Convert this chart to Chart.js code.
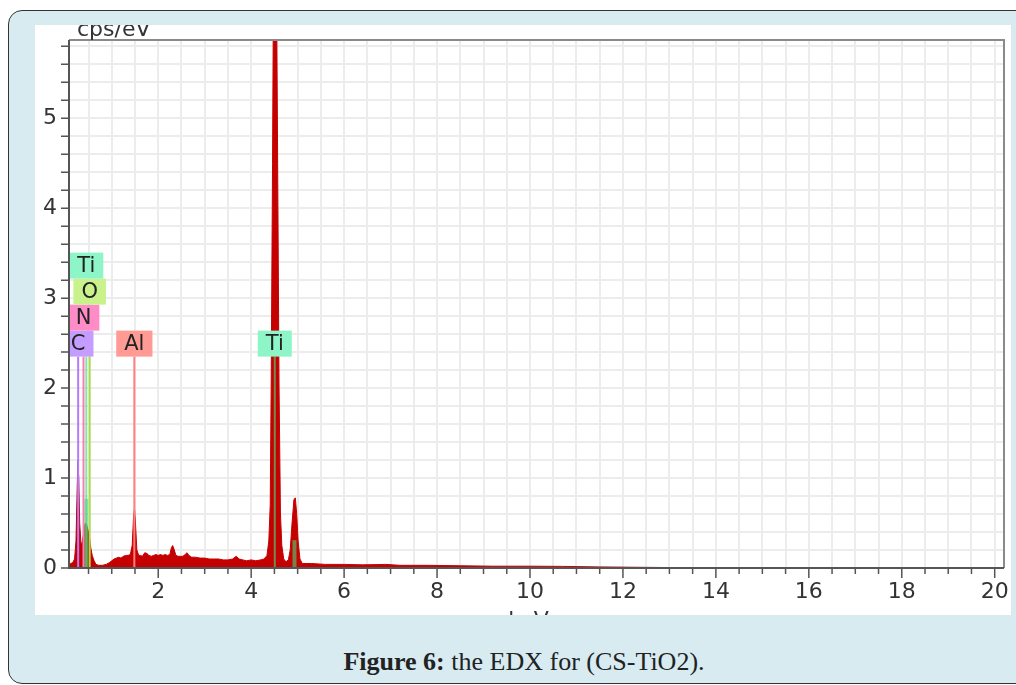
<!DOCTYPE html>
<html>
<head>
<meta charset="utf-8">
<title>EDX CS-TiO2</title>
<script src="https://cdn.jsdelivr.net/npm/chart.js@4.4.1/dist/chart.umd.min.js"></script>
<style>
  body { margin: 0; background: #fff; width: 1016px; height: 685px; overflow: hidden; position: relative; }
  #card { position: absolute; left: 8px; top: 10px; width: 1040px; height: 672px; background: #d7ebf1; border: 1.5px solid #333; border-radius: 14px; }
  #plot { position: absolute; left: 35px; top: 25px; width: 976px; height: 590px; background: #fff; overflow: hidden; }
  #caption { position: absolute; left: 0; top: 647px; width: 1048px; text-align: center; font-family: 'Liberation Serif', serif; font-size: 26px; color: #222; }
</style>
</head>
<body>
<div id="card"></div>
<div id="plot"><canvas id="chartCanvas" width="976" height="590"></canvas></div>
<div id="caption"><b>Figure 6:</b> the EDX for (CS-TiO2).</div>
<script>
// spectrum (keV, cps/eV)
const energy = [0.08, 0.12, 0.16, 0.20, 0.23, 0.25, 0.27, 0.29, 0.31, 0.34, 0.37, 0.40, 0.43, 0.46, 0.49, 0.52, 0.55, 0.58, 0.62, 0.66,
  0.72, 0.80, 0.88, 0.95, 1.00, 1.05, 1.10, 1.15, 1.20, 1.25, 1.30, 1.35, 1.40, 1.44, 1.47, 1.49, 1.51, 1.54, 1.58, 1.62,
  1.66, 1.71, 1.76, 1.80, 1.85, 1.90, 1.95, 2.00, 2.05, 2.10, 2.15, 2.20, 2.25, 2.28, 2.31, 2.34, 2.38, 2.43, 2.48, 2.53,
  2.58, 2.62, 2.66, 2.72, 2.80, 2.90, 3.00, 3.10, 3.20, 3.30, 3.40, 3.50, 3.60, 3.68, 3.74, 3.82, 3.90, 4.00, 4.10, 4.20,
  4.28, 4.34, 4.38, 4.41, 4.43, 4.46, 4.49, 4.51, 4.54, 4.57, 4.60, 4.63, 4.66, 4.70, 4.75, 4.80, 4.84, 4.88, 4.92, 4.95,
  4.98, 5.01, 5.05, 5.10, 5.30, 5.60, 6.00, 6.40, 6.90, 7.20, 7.80, 8.50, 9.20, 10.00, 10.70, 11.50, 12.30, 13.00, 14.00, 16.00, 20.20];
const counts = [0.04, 0.05, 0.06, 0.10, 0.30, 0.75, 1.20, 1.00, 0.50, 0.25, 0.30, 0.42, 0.50, 0.48, 0.42, 0.35, 0.22, 0.14, 0.08, 0.04,
  0.03, 0.03, 0.04, 0.06, 0.08, 0.10, 0.11, 0.12, 0.11, 0.13, 0.14, 0.14, 0.15, 0.25, 0.58, 0.66, 0.50, 0.20, 0.14, 0.14,
  0.13, 0.17, 0.16, 0.14, 0.13, 0.14, 0.15, 0.14, 0.15, 0.14, 0.15, 0.14, 0.15, 0.22, 0.25, 0.21, 0.14, 0.13, 0.13, 0.13,
  0.15, 0.17, 0.14, 0.12, 0.12, 0.11, 0.11, 0.10, 0.10, 0.10, 0.09, 0.09, 0.10, 0.13, 0.10, 0.09, 0.08, 0.09, 0.08, 0.09,
  0.10, 0.14, 0.30, 0.70, 2.00, 4.50, 7.50, 8.50, 7.00, 4.50, 2.00, 0.60, 0.25, 0.10, 0.07, 0.09, 0.20, 0.50, 0.76, 0.78,
  0.60, 0.30, 0.10, 0.05, 0.05, 0.04, 0.04, 0.035, 0.04, 0.03, 0.03, 0.025, 0.02, 0.02, 0.018, 0.012, 0.008, 0.005, 0.002, 0.001, 0];

// element markers
const markerNames = ['C', 'N', 'O', 'Ti', 'Al', 'Ti'];
const markerEnergy = [0.277, 0.392, 0.525, 0.452, 1.486, 4.508];
const markerTop = 2.35;
// Ti fitted lines inside the peaks
const tiFitEnergy = [0.452, 4.932];
const tiFitHeight = [0.77, 0.31];

const xTicksStep = 0.5;
const yTicksStep = 0.2;

const boxColors = { C: '#c59cff', N: '#ff8cc6', O: '#c9f28c', Ti: '#8ef5c8', Al: '#ff9a94' };
const lineColors = { C: '#b57bff', N: '#ff7ab8', O: '#a5de4c', Ti: 'rgba(70,215,120,0.65)', Al: '#ff7f7f' };

function isWhole(v) {
  return Math.abs(v - Math.round(v)) < 1e-6;
}

function markerDatasets() {
  let sets = [];
  for (let i = markerNames.length - 1; i >= 0; i--) {
    sets.push({
      data: [{ x: markerEnergy[i], y: 0 }, { x: markerEnergy[i], y: markerTop }],
      showLine: true, pointRadius: 0, borderWidth: 2,
      borderColor: lineColors[markerNames[i]]
    });
  }
  for (let i = 0; i < tiFitEnergy.length; i++) {
    sets.push({
      data: [{ x: tiFitEnergy[i], y: 0 }, { x: tiFitEnergy[i], y: tiFitHeight[i] }],
      showLine: true, pointRadius: 0, borderWidth: 4,
      borderColor: 'rgba(70,215,120,0.6)'
    });
  }
  return sets;
}

// no extra room for half labels, the frame sits where the original has it
function noPad(s) {
  s.paddingLeft = 0; s.paddingRight = 0; s.paddingTop = 0; s.paddingBottom = 0;
}

// frame, tick marks, element labels and axis titles
const edxPlugin = {
  id: 'edx',
  afterDatasetsDraw(chart) {
    const c = chart.ctx;
    const a = chart.chartArea;
    const xs = chart.scales.x, ys = chart.scales.y;

    // element labels, stacked when they overlap
    c.save();
    c.beginPath();
    c.rect(a.left, a.top, a.right - a.left, a.bottom - a.top);
    c.clip();
    c.font = '21px "DejaVu Sans"';
    c.textAlign = 'center';
    c.textBaseline = 'middle';
    const placed = [];
    const boxH = 26;
    const base = ys.getPixelForValue(markerTop);
    markerNames.forEach((name, i) => {
      const cx = xs.getPixelForValue(markerEnergy[i]);
      const w = c.measureText(name).width + 16;
      let level = 0;
      while (placed.some(p => p.level === level && p.l < cx + w / 2 && p.r > cx - w / 2)) level++;
      placed.push({ l: cx - w / 2, r: cx + w / 2, level: level });
      const top = base - boxH * (level + 1);
      c.fillStyle = boxColors[name];
      c.fillRect(cx - w / 2, top, w, boxH);
      c.fillStyle = '#222';
      c.fillText(name, cx, top + boxH / 2 + 1);
    });
    c.restore();

    c.save();
    // plot frame
    c.strokeStyle = '#8a8a8a';
    c.lineWidth = 2;
    c.beginPath();
    c.moveTo(a.left, a.top); c.lineTo(a.right, a.top); c.lineTo(a.right, a.bottom);
    c.stroke();
    c.strokeStyle = '#555';
    c.beginPath();
    c.moveTo(a.left, a.top); c.lineTo(a.left, a.bottom); c.lineTo(a.right, a.bottom);
    c.stroke();

    // tick marks
    c.lineWidth = 1.5;
    c.beginPath();
    xs.ticks.forEach(t => {
      if (!isWhole(t.value / xTicksStep)) return;
      const px = xs.getPixelForValue(t.value);
      const len = isWhole(t.value / 2) ? 10 : 6;
      c.moveTo(px, a.bottom); c.lineTo(px, a.bottom + len);
    });
    ys.ticks.forEach(t => {
      if (!isWhole(t.value / yTicksStep)) return;
      const py = ys.getPixelForValue(t.value);
      c.moveTo(a.left, py); c.lineTo(a.left - 8, py);
    });
    c.stroke();

    // axis titles (cut by the white panel, like the original)
    c.fillStyle = '#333';
    c.font = '22px "DejaVu Sans"';
    c.textAlign = 'left';
    c.textBaseline = 'alphabetic';
    c.fillText('cps/eV', 42, 11);
    c.textAlign = 'center';
    c.textBaseline = 'top';
    c.fillText('keV', (a.left + a.right) / 2 - 8, 585);
    c.restore();
  }
};

function showChart() {
  const spectrum = energy.map((e, i) => ({ x: e, y: counts[i] }));
  const datasets = markerDatasets();
  datasets.push({
    data: spectrum, showLine: true, pointRadius: 0, borderWidth: 1,
    borderColor: '#c40000', backgroundColor: '#c40000', fill: 'origin'
  });

  new Chart(document.getElementById('chartCanvas'), {
    type: 'scatter',
    data: { datasets: datasets },
    options: {
      responsive: false,
      animation: false,
      devicePixelRatio: 1,
      layout: { padding: { top: 15, right: 7, left: 0, bottom: 0 } },
      plugins: { legend: { display: false }, tooltip: { enabled: false } },
      scales: {
        x: {
          type: 'linear', min: 0.08, max: 20.2,
          afterFit: s => { s.height = 47; noPad(s); },
          border: { display: false },
          grid: { color: '#ececec', lineWidth: 2, drawTicks: false },
          ticks: {
            stepSize: xTicksStep, includeBounds: false, autoSkip: false, maxRotation: 0, padding: 11,
            color: '#333', font: { family: 'DejaVu Sans', size: 22 },
            callback: v => (isWhole(v / 2) && v > 1) ? String(Math.round(v)) : ''
          }
        },
        y: {
          min: 0, max: 5.87,
          afterFit: s => { s.width = 34; noPad(s); },
          border: { display: false },
          grid: { color: '#ececec', lineWidth: 2, drawTicks: false },
          ticks: {
            stepSize: yTicksStep, includeBounds: false, autoSkip: false, padding: 12,
            color: '#333', font: { family: 'DejaVu Sans', size: 22 },
            callback: v => isWhole(v) ? String(Math.round(v)) : ''
          }
        }
      }
    },
    plugins: [edxPlugin]
  });
}

showChart();
</script>
</body>
</html>
